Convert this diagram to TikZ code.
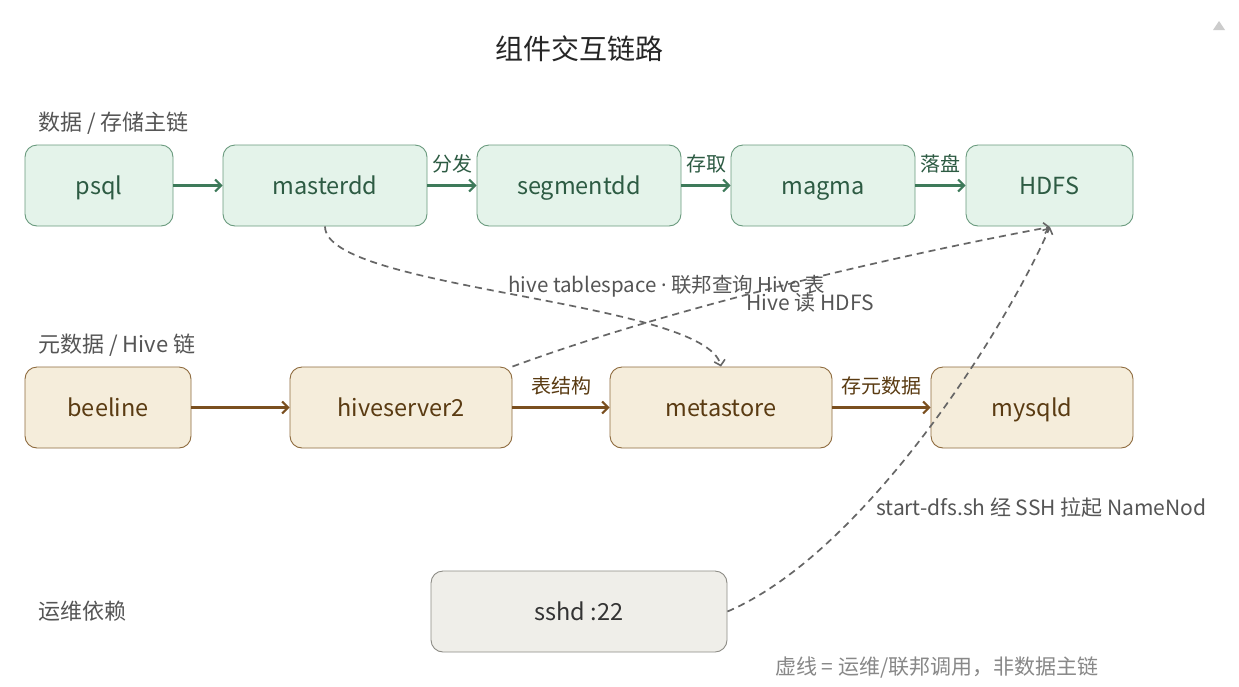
\documentclass[tikz,border=0pt]{standalone}
\usepackage{fontspec}
\setmainfont{Noto Sans CJK SC}
\newfontfamily\latinfont{Noto Sans}
\usetikzlibrary{arrows.meta}
\definecolor{gfill}{HTML}{E4F3EA}
\definecolor{gdraw}{HTML}{6A9A7E}
\definecolor{gtext}{HTML}{2D5B43}
\definecolor{garrow}{HTML}{3E7A5A}
\definecolor{bfill}{HTML}{F5EDDB}
\definecolor{bdraw}{HTML}{8E6B3E}
\definecolor{btext}{HTML}{5A3B12}
\definecolor{barrow}{HTML}{7A4F1F}
\definecolor{sfill}{HTML}{EFEEE9}
\definecolor{sdraw}{HTML}{8C8B85}
\definecolor{stext}{HTML}{333333}
\definecolor{dashc}{HTML}{666666}
\definecolor{labc}{HTML}{555555}
\definecolor{notec}{HTML}{888888}
\tikzset{
  box/.style={rectangle, rounded corners=12pt, line width=0.9pt, minimum height=81pt, inner sep=0pt, text height=21pt, text depth=3pt, font=\fontsize{23.5}{27}\selectfont},
  gbox/.style={box, fill=gfill, draw=gdraw, text=gtext},
  bbox/.style={box, fill=bfill, draw=bdraw, text=btext},
  sbox/.style={box, fill=sfill, draw=sdraw, text=stext},
  garr/.style={draw=garrow, line width=2.2pt, -{Straight Barb[length=6pt,width=12pt,line width=2pt]}},
  barr/.style={draw=barrow, line width=2.2pt, -{Straight Barb[length=6pt,width=12pt,line width=2pt]}},
  darr/.style={draw=dashc, line width=1.7pt, dash pattern=on 7pt off 5pt, -{Straight Barb[length=5pt,width=11pt,line width=1.6pt]}},
  elab/.style={font=\fontsize{20}{22}\selectfont, inner sep=1pt},
  sec/.style={font=\fontsize{22}{26}\selectfont, text=labc, anchor=west, inner sep=0pt},
  dlab/.style={font=\fontsize{21}{24}\selectfont, text=labc, inner sep=0pt},
}
\begin{document}
\begin{tikzpicture}[x=1pt,y=-1pt]
\useasboundingbox (0,0) rectangle (1239,686);
\fill[white] (0,0) rectangle (1239,686);
% scroll indicator
\fill[black!20] (1213,30) -- (1219,21) -- (1225,30) -- cycle;
% title
\node[font=\fontsize{28}{32}\selectfont, text=black!85] (title) at (579,49) {组件交互链路};
% section labels
\node[sec] (s1) at (38,123) {数据 / 存储主链};
\node[sec] (s2) at (38,345) {元数据 / Hive 链};
\node[sec] (s3) at (38,611) {运维依赖};
% row 1
\node[gbox, minimum width=148pt] (psql) at (99,185.5) {psql};
\node[gbox, minimum width=204pt] (masterdd) at (325,185.5) {masterdd};
\node[gbox, minimum width=204pt] (segmentdd) at (579,185.5) {segmentdd};
\node[gbox, minimum width=184pt] (magma) at (823,185.5) {magma};
\node[gbox, minimum width=167pt] (hdfs) at (1049.5,185.5) {HDFS};
% row 2
\node[bbox, minimum width=166pt] (beeline) at (108,407.5) {beeline};
\node[bbox, minimum width=222pt] (hs2) at (401,407.5) {hiveserver2};
\node[bbox, minimum width=222pt] (meta) at (721,407.5) {metastore};
\node[bbox, minimum width=202pt] (mysqld) at (1032,407.5) {mysqld};
% ops
\node[sbox, minimum width=296pt] (sshd) at (579,611.5) {sshd :22};
% solid arrows
\draw[garr] (psql.east) -- (masterdd.west);
\draw[garr] (masterdd.east) -- node[elab, text=gtext, above=10pt] {分发} (segmentdd.west);
\draw[garr] (segmentdd.east) -- node[elab, text=gtext, above=10pt] {存取} (magma.west);
\draw[garr] (magma.east) -- node[elab, text=gtext, above=10pt] {落盘} (hdfs.west);
\draw[barr] (beeline.east) -- (hs2.west);
\draw[barr] (hs2.east) -- node[elab, text=btext, above=10pt] {表结构} (meta.west);
\draw[barr] (meta.east) -- node[elab, text=btext, above=10pt] {存元数据} (mysqld.west);
% dashed connectors
\coordinate (hdfsin) at (1050,227);
\draw[darr] (masterdd.south) .. controls (325,290) and (705,300) .. (meta.north);
\draw[darr] (hs2.north east) .. controls (680,305) and (900,255) .. (hdfsin);
\draw[darr] (sshd.east) .. controls (860,555) and (1000,340) .. (hdfsin);
% dashed labels
\node[dlab, font=\fontsize{20.5}{24}\selectfont] (l1) at (667,286) {hive tablespace {\latinfont ·} 联邦查询 Hive 表};
\node[dlab] (l2) at (810,303) {Hive 读 HDFS};
\node[dlab, anchor=west] (l3) at (876,508) {start-dfs.sh 经 SSH 拉起 NameNod};
% note
\node[dlab, text=notec, anchor=west] (note) at (775,668) {虚线 = 运维/联邦调用，非数据主链};
\end{tikzpicture}
\end{document}
